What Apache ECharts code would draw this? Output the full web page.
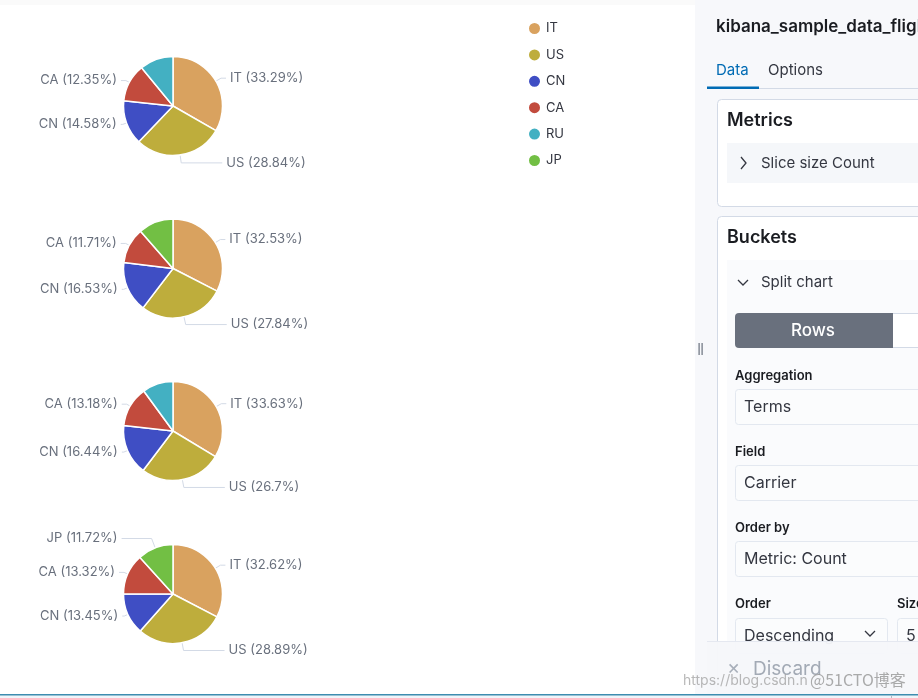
<!DOCTYPE html>
<html>
<head>
<meta charset="utf-8">
<script src="https://cdn.jsdelivr.net/npm/echarts@6/dist/echarts.min.js"></script>
<style>
html,body{margin:0;padding:0;background:#fff;}
#chart{width:918px;height:698px;}
</style>
</head>
<body>
<div id="chart"></div>
<script>
// ---- data ----
const categories = ['IT', 'US', 'CN', 'CA', 'RU', 'JP'];
const pie1Names = ['IT', 'US', 'CN', 'CA', 'RU'];
const pie1Values = [33.29, 28.84, 14.58, 12.35, 10.94];
const pie1Labeled = [true, true, true, true, false];
const pie2Names = ['IT', 'US', 'CN', 'CA', 'JP'];
const pie2Values = [32.53, 27.84, 16.53, 11.71, 11.39];
const pie2Labeled = [true, true, true, true, false];
const pie3Names = ['IT', 'US', 'CN', 'CA', 'RU'];
const pie3Values = [33.63, 26.7, 16.44, 13.18, 10.05];
const pie3Labeled = [true, true, true, true, false];
const pie4Names = ['IT', 'US', 'CN', 'CA', 'JP'];
const pie4Values = [32.62, 28.89, 13.45, 13.32, 11.72];
const pie4Labeled = [true, true, true, true, true];

// ---- styles ----
const colorMap = {
  IT: '#d9a25f', US: '#bead3c', CN: '#3f4ec4', CA: '#c24b3d', RU: '#43b0c2', JP: '#72bf44'
};
const lineLen = {
  IT: [6, 5], US: [8, 41], CN: [4, 2], CA: [4, 5], RU: [4, 4], JP: [10, 30]
};
const FONT = 'Inter, "Noto Sans", sans-serif';
const pieCentersY = [106, 268.5, 431, 594];

function buildPie(names, values, labeled, cy) {
  return {
    type: 'pie',
    center: [173, cy],
    radius: 49.5,
    startAngle: 90,
    clockwise: true,
    avoidLabelOverlap: false,
    itemStyle: { borderColor: '#fff', borderWidth: 1.5 },
    label: {
      show: true,
      position: 'outside',
      formatter: '{b} ({c}%)',
      color: '#69707d',
      fontSize: 13,
      fontFamily: FONT,
      distanceToLabelLine: 4
    },
    labelLine: { show: true, lineStyle: { color: '#d3dae6', width: 1 } },
    emphasis: { disabled: true },
    data: names.map((n, i) => ({
      name: n,
      value: values[i],
      itemStyle: { color: colorMap[n] },
      label: { show: labeled[i] },
      labelLine: { show: labeled[i], length: lineLen[n][0], length2: lineLen[n][1] }
    }))
  };
}

const chart = echarts.init(document.getElementById('chart'));

const panelText = (text, x, y, opts) => ({
  type: 'text', x: x, y: y, silent: true,
  style: Object.assign({ text: text, fontFamily: FONT, fontSize: 15, fill: '#343741', textVerticalAlign: 'middle' }, opts || {})
});
const rect = (x, y, w, h, fill, stroke, r) => ({
  type: 'rect', silent: true,
  shape: { x: x, y: y, width: w, height: h, r: r || 0 },
  style: { fill: fill, stroke: stroke || null, lineWidth: 1 }
});

const graphics = [
  rect(0, 0, 695, 5, '#fafafa'),
  rect(695, 0, 223, 698, '#f7f8fb'),
  rect(698.5, 343, 1.2, 12, '#69707d'),
  rect(701.5, 343, 1.2, 12, '#69707d'),
  panelText('kibana_sample_data_flights', 716, 27, { fontSize: 17, fontWeight: 600, fill: '#1a1c21' }),
  panelText('Data', 716, 70, { fill: '#006bb4' }),
  panelText('Options', 768, 70),
  rect(707, 88, 211, 1, '#d3dae6'),
  rect(707, 86.5, 52, 2.5, '#006bb4'),
  // Metrics card
  rect(717.5, 99.5, 230, 107, '#ffffff', '#d3dae6', 4),
  panelText('Metrics', 727, 121, { fontSize: 18, fontWeight: 600, fill: '#1a1c21' }),
  rect(727, 143, 220, 40, '#f5f7fa'),
  { type: 'polyline', silent: true, shape: { points: [[741, 157], [746, 163], [741, 169]] }, style: { stroke: '#343741', lineWidth: 1.3, fill: null } },
  panelText('Slice size Count', 761, 163),
  // Buckets card
  rect(717.5, 216.5, 230, 500, '#ffffff', '#d3dae6', 4),
  panelText('Buckets', 727, 238, { fontSize: 18, fontWeight: 600, fill: '#1a1c21' }),
  rect(727, 260, 220, 450, '#fafbfd'),
  { type: 'polyline', silent: true, shape: { points: [[738, 280], [743, 285], [748, 280]] }, style: { stroke: '#343741', lineWidth: 1.3, fill: null } },
  panelText('Split chart', 761, 282),
  rect(892.5, 313.5, 40, 34, '#ffffff', '#d3dae6'),
  rect(735, 313, 158, 35, '#69707d', null, [4, 0, 0, 4]),
  panelText('Rows', 813, 331, { fontSize: 17, fontWeight: 500, fill: '#ffffff', textAlign: 'center' }),
  panelText('Aggregation', 735, 376, { fontSize: 13, fontWeight: 600, fill: '#1a1c21' }),
  rect(735.5, 389.5, 200, 35, '#fbfcfd', '#e3e8f0', 3),
  panelText('Terms', 744, 407, { fontSize: 16 }),
  panelText('Field', 735, 452, { fontSize: 13, fontWeight: 600, fill: '#1a1c21' }),
  rect(735.5, 465.5, 200, 35, '#fbfcfd', '#e3e8f0', 3),
  panelText('Carrier', 744, 483, { fontSize: 16 }),
  panelText('Order by', 735, 528, { fontSize: 13, fontWeight: 600, fill: '#1a1c21' }),
  rect(735.5, 541.5, 200, 35, '#fbfcfd', '#e3e8f0', 3),
  panelText('Metric: Count', 744, 559, { fontSize: 16 }),
  panelText('Order', 735, 604, { fontSize: 13, fontWeight: 600, fill: '#1a1c21' }),
  panelText('Size', 897, 604, { fontSize: 13, fontWeight: 600, fill: '#1a1c21' }),
  rect(735.5, 618.5, 152, 35, '#fbfcfd', '#e3e8f0', 3),
  panelText('Descending', 744, 636, { fontSize: 16 }),
  { type: 'polyline', silent: true, shape: { points: [[865, 631], [870, 636], [875, 631]] }, style: { stroke: '#343741', lineWidth: 1.3, fill: null } },
  rect(897.5, 618.5, 60, 35, '#fbfcfd', '#e3e8f0', 3),
  panelText('5', 906, 636, { fontSize: 16 }),
  // bottom bar
  rect(707, 641, 211, 54, 'rgba(246,247,250,0.96)'),
  rect(707, 641, 211, 1, 'rgba(211,218,230,0.5)'),
  panelText('×', 727, 668, { fontSize: 20, fill: '#a8afba' }),
  panelText('Discard', 753, 669, { fontSize: 19, fill: '#a3aab5' }),
  panelText('https://blog.csdn.n', 683, 681, { fontSize: 14, fill: 'rgba(160,160,160,0.75)' }),
  panelText('@51CTO博客', 810, 680, { fontSize: 16, fill: 'rgba(150,150,150,0.8)', fontFamily: '"Noto Sans CJK SC", ' + FONT }),
  rect(0, 695, 918, 3, '#eef5fa'),
  rect(0, 694, 918, 1.5, '#3d8db0'),
  rect(891, 695.5, 1, 3, '#b0b8c4')
];

chart.setOption({
  animation: false,
  backgroundColor: '#ffffff',
  legend: {
    orient: 'vertical',
    left: 522,
    top: 16,
    itemWidth: 13,
    itemHeight: 13,
    itemGap: 11.4,
    icon: 'circle',
    data: categories,
    textStyle: { color: '#343741', fontSize: 13, fontFamily: FONT },
    selectedMode: false
  },
  series: [
    buildPie(pie1Names, pie1Values, pie1Labeled, pieCentersY[0]),
    buildPie(pie2Names, pie2Values, pie2Labeled, pieCentersY[1]),
    buildPie(pie3Names, pie3Values, pie3Labeled, pieCentersY[2]),
    buildPie(pie4Names, pie4Values, pie4Labeled, pieCentersY[3])
  ],
  graphic: graphics
});
</script>
</body>
</html>
